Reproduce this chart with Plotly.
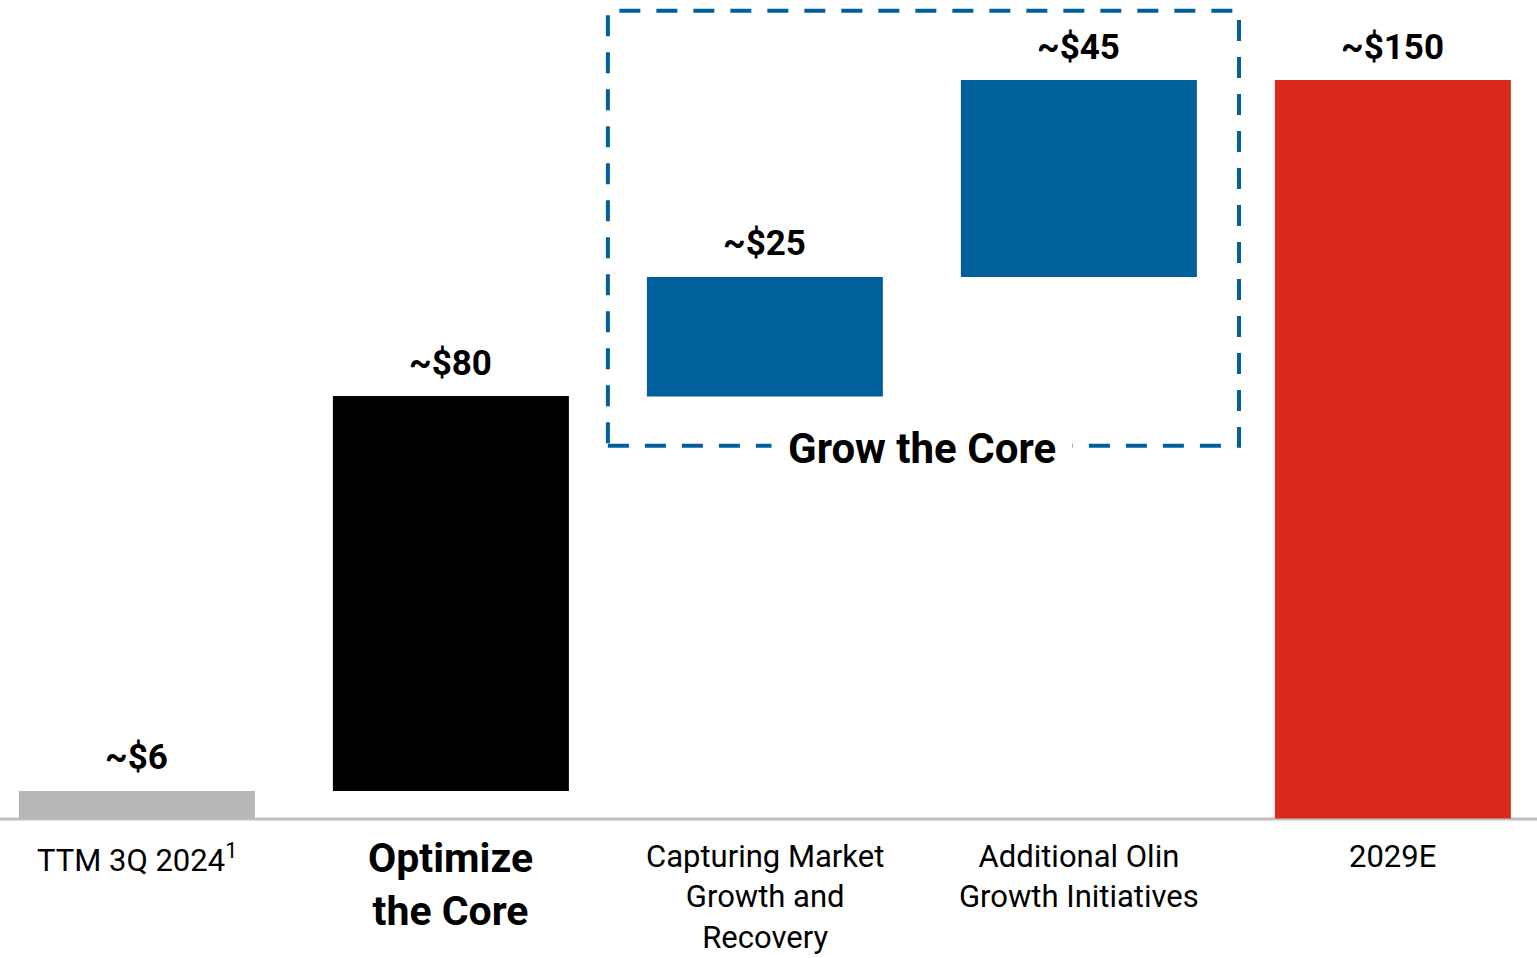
import plotly.graph_objects as go

# ---- data ----
categories = ["TTM 3Q 2024", "Optimize the Core", "Capturing Market Growth and Recovery",
              "Additional Olin Growth Initiatives", "2029E"]
tick_labels = ["TTM 3Q 2024<sup>1</sup>", "<b>Optimize<br>the Core</b>",
               "Capturing Market<br>Growth and<br>Recovery",
               "Additional Olin<br>Growth Initiatives", "2029E"]
value_labels = ["~$6", "~$80", "~$25", "~$45", "~$150"]
bar_bases = [0, 5.6, 85.7, 110.0, 0]
bar_heights = [5.6, 80.2, 24.3, 40.0, 150.0]
bar_colors = ["#b7b7b7", "#000000", "#00609c", "#00609c", "#da291c"]
group_label = "Grow the Core"

FONT = "Roboto"
W, H = 1537, 958

fig = go.Figure()
fig.add_trace(go.Bar(
    x=categories, y=bar_heights, base=bar_bases,
    marker=dict(color=bar_colors, line=dict(width=0)),
    hoverinfo="skip", showlegend=False,
))

# baseline
fig.add_shape(type="line", xref="paper", x0=0, x1=1, yref="y", y0=-0.1, y1=-0.1,
              line=dict(color="#bfbfbf", width=3), layer="below")

# dashed group box
fig.add_shape(type="rect", xref="x", yref="y", x0=1.5, x1=3.51, y0=75.7, y1=164.1,
              line=dict(color="#00609c", width=4, dash="21px,16px"),
              fillcolor="rgba(0,0,0,0)", layer="above")

annotations = []
for cat, b, h, lab in zip(categories, bar_bases, bar_heights, value_labels):
    annotations.append(dict(
        x=cat, y=b + h, xref="x", yref="y", text=f"<b>{lab}</b>", showarrow=False,
        yanchor="middle", xanchor="center", yshift=33,
        font=dict(family=FONT, size=35, color="#000000"),
    ))
for i, (cat, tl) in enumerate(zip(categories, tick_labels)):
    bold = tl.startswith("<b>")
    annotations.append(dict(
        x=cat, y=0, xref="x", yref="y", text=tl, showarrow=False,
        yanchor="top", xanchor="center", yshift=-14 if bold else -18,
        font=dict(family=FONT, size=41 if bold else 31, color="#000000"),
    ))
annotations.append(dict(
    x=2.5, y=75.7, xref="x", yref="y", text=f"<b>{group_label}</b>", showarrow=False,
    yanchor="middle", xanchor="center", yshift=-3, bgcolor="#ffffff", borderpad=16,
    font=dict(family=FONT, size=42, color="#000000"),
))

fig.update_layout(
    width=W, height=H,
    margin=dict(l=0, r=0, t=0, b=0),
    paper_bgcolor="#ffffff", plot_bgcolor="#ffffff",
    bargap=0.2484,
    xaxis=dict(type="category", range=[-0.436, 4.459], showticklabels=False,
               showgrid=False, zeroline=False, showline=False, fixedrange=True),
    yaxis=dict(range=[-28.34, 166.26], visible=False, showgrid=False, zeroline=False,
               fixedrange=True),
    annotations=annotations,
    showlegend=False,
)

fig.write_html("out.html", config={"displayModeBar": False})
